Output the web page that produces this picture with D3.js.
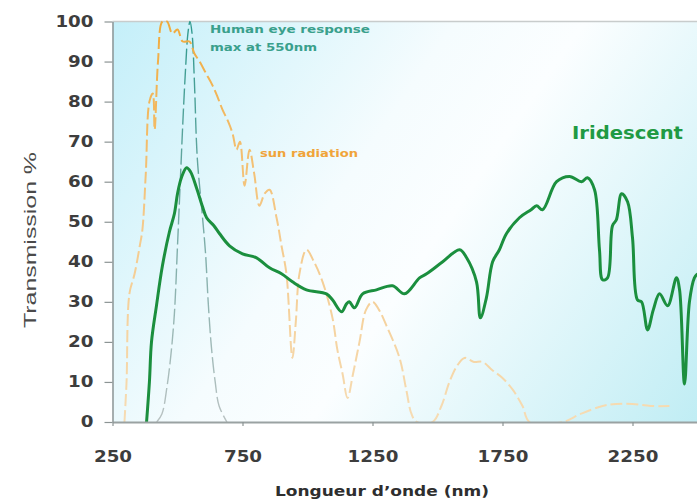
<!DOCTYPE html>
<html>
<head>
<meta charset="utf-8">
<script src="https://cdn.jsdelivr.net/npm/d3@7"></script>
<style>
  body { margin: 0; background: #fff; }
  svg { display: block; }
</style>
</head>
<body>
<div id="chart"></div>
<script>
// wavelength (nm) / transmission (%)
const iridescent = [
  [381, 0], [392, 10], [400, 20], [419, 29], [442, 39], [469, 47.5], [488, 52],
  [500, 57], [515, 61], [535, 63.5], [550, 62.5], [573, 58.5], [595, 54], [612, 51],
  [640, 49], [662, 47], [700, 44], [750, 42], [804, 41], [854, 38.5], [900, 37],
  [942, 35], [996, 33], [1073, 32], [1096, 30.5], [1131, 27.5], [1150, 29.5],
  [1161, 30], [1181, 28.5], [1212, 32], [1265, 33], [1327, 34], [1373, 32],
  [1431, 36], [1458, 37], [1520, 40], [1585, 43], [1612, 41], [1650, 35],
  [1665, 26], [1688, 31], [1712, 40], [1738, 43], [1765, 47], [1815, 51],
  [1860, 53], [1881, 54], [1904, 53], [1958, 60], [2008, 61.3], [2054, 60],
  [2077, 61], [2104, 58], [2123, 43], [2135, 35.5], [2154, 36], [2173, 49],
  [2188, 50.5], [2208, 57], [2231, 55], [2250, 46], [2269, 30.5], [2285, 30],
  [2308, 23], [2330, 28], [2354, 32], [2385, 29], [2419, 36], [2431, 33],
  [2450, 9.5], [2469, 30], [2488, 36], [2500, 37]
];

const sunRadiation = [
  [296, 0], [304, 10], [315, 32], [335, 37], [355, 44], [365, 48], [378, 62],
  [392, 80], [405, 82], [412, 73], [425, 90], [442, 100], [460, 100], [480, 97],
  [500, 98], [520, 95], [546, 95], [565, 92], [585, 90], [610, 87], [635, 84],
  [655, 81], [673, 78], [695, 75], [712, 72], [727, 68], [740, 70], [758, 59],
  [777, 68], [795, 62], [815, 54], [835, 57], [854, 58], [881, 51], [900, 44],
  [919, 37], [942, 16], [955, 25], [969, 37], [996, 43], [1025, 40], [1058, 35],
  [1096, 26], [1115, 18], [1135, 12], [1154, 6], [1175, 12], [1200, 20],
  [1225, 28], [1250, 30], [1275, 28], [1304, 24], [1354, 16], [1380, 8],
  [1400, 2], [1420, 0], [1481, 0], [1515, 4], [1546, 10], [1575, 14], [1604, 16],
  [1640, 15], [1673, 15], [1710, 13], [1750, 11], [1790, 8], [1827, 4],
  [1854, 0], [1981, 0], [2050, 2], [2135, 4], [2188, 4.5], [2250, 4.5],
  [2320, 4], [2392, 4]
];

const eyeResponse = [
  [420, 0], [440, 2], [460, 9], [475, 17], [488, 27], [500, 44], [510, 59],
  [520, 74], [530, 87], [540, 97], [548, 100], [556, 97], [565, 85], [576, 66],
  [595, 52], [608, 42], [618, 30], [630, 19], [645, 10], [660, 4], [690, 0]
];

const xTicks = [250, 750, 1250, 1750, 2250];
const yTicks = [0, 10, 20, 30, 40, 50, 60, 70, 80, 90, 100];

const width = 697, height = 502;
const plot = { left: 112.5, top: 21.5, right: 697.5, bottom: 422 };

const svg = d3.select("#chart").append("svg")
  .attr("width", width)
  .attr("height", height);

const xScale = d3.scaleLinear().domain([250, 2500]).range([plot.left, plot.right]);
const yScale = d3.scaleLinear().domain([0, 100]).range([plot.bottom, plot.top]);

const defs = svg.append("defs");

// pale cyan background, whitish through the middle
const bg = defs.append("linearGradient")
  .attr("id", "bg")
  .attr("gradientUnits", "userSpaceOnUse")
  .attr("x1", plot.left).attr("y1", plot.top)
  .attr("x2", plot.right).attr("y2", plot.bottom);
bg.append("stop").attr("offset", 0).attr("stop-color", "#c4eff9");
bg.append("stop").attr("offset", 0.4).attr("stop-color", "#f5fcfe");
bg.append("stop").attr("offset", 0.55).attr("stop-color", "#fbfeff");
bg.append("stop").attr("offset", 1).attr("stop-color", "#c0edf4");

const sunGrad = defs.append("linearGradient")
  .attr("id", "sunGrad")
  .attr("gradientUnits", "userSpaceOnUse")
  .attr("x1", 0).attr("y1", plot.top).attr("x2", 0).attr("y2", plot.bottom);
sunGrad.append("stop").attr("offset", 0).attr("stop-color", "#f0aa3c");
sunGrad.append("stop").attr("offset", 0.5).attr("stop-color", "#f4c98a");
sunGrad.append("stop").attr("offset", 1).attr("stop-color", "#f6dcb4");

const eyeGrad = defs.append("linearGradient")
  .attr("id", "eyeGrad")
  .attr("gradientUnits", "userSpaceOnUse")
  .attr("x1", 0).attr("y1", plot.top).attr("x2", 0).attr("y2", plot.bottom);
eyeGrad.append("stop").attr("offset", 0).attr("stop-color", "#2f9a8e");
eyeGrad.append("stop").attr("offset", 0.45).attr("stop-color", "#6fa8a2");
eyeGrad.append("stop").attr("offset", 1).attr("stop-color", "#b9c2c2");

defs.append("clipPath").attr("id", "clip")
  .append("rect")
  .attr("x", plot.left).attr("y", plot.top - 2)
  .attr("width", plot.right - plot.left).attr("height", plot.bottom - plot.top + 2);

svg.append("rect")
  .attr("x", plot.left).attr("y", plot.top)
  .attr("width", plot.right - plot.left)
  .attr("height", plot.bottom - plot.top)
  .attr("fill", "url(#bg)");

// top border
svg.append("line")
  .attr("x1", plot.left).attr("x2", plot.right)
  .attr("y1", plot.top).attr("y2", plot.top)
  .attr("stroke", "#c8cccc").attr("stroke-width", 1.5);

const line = d3.line()
  .x((d) => xScale(d[0]))
  .y((d) => yScale(d[1]))
  .curve(d3.curveCatmullRom.alpha(0.5));

const curves = svg.append("g").attr("clip-path", "url(#clip)");

curves.append("path")
  .attr("d", line(eyeResponse))
  .attr("fill", "none")
  .attr("stroke", "url(#eyeGrad)")
  .attr("stroke-width", 1.4)
  .attr("stroke-dasharray", "16,4");

curves.append("path")
  .attr("d", line(sunRadiation))
  .attr("fill", "none")
  .attr("stroke", "url(#sunGrad)")
  .attr("stroke-width", 2)
  .attr("stroke-dasharray", "12,4");

curves.append("path")
  .attr("d", line(iridescent))
  .attr("fill", "none")
  .attr("stroke", "#1b8f3e")
  .attr("stroke-width", 3)
  .attr("stroke-linejoin", "round");

// y-axis
const yAxis = svg.append("g")
  .attr("transform", `translate(${plot.left},0)`)
  .call(d3.axisLeft(yScale).tickValues(yTicks).tickSize(8).tickPadding(11).tickSizeOuter(0));
yAxis.select(".domain").attr("stroke", "#8c9494").attr("stroke-width", 1.5);
yAxis.selectAll(".tick line").attr("stroke", "#8c9494").attr("stroke-width", 1.2);
yAxis.selectAll(".tick text")
  .attr("font-family", "DejaVu Sans")
  .attr("font-weight", "bold")
  .attr("font-size", 15)
  .attr("fill", "#3d3d3d")
  .attr("textLength", (d) => String(d).length * 12.7)
  .attr("lengthAdjust", "spacingAndGlyphs");

// x-axis
const xAxis = svg.append("g")
  .attr("transform", `translate(0,${plot.bottom})`)
  .call(d3.axisBottom(xScale).tickValues(xTicks).tickFormat(d3.format("d"))
    .tickSize(4).tickSizeOuter(0));
xAxis.select(".domain").attr("stroke", "#9aa2a2").attr("stroke-width", 2);
xAxis.selectAll(".tick line").attr("stroke", "#8c9494").attr("stroke-width", 1.2);
xAxis.selectAll(".tick text")
  .attr("y", 40)
  .attr("dy", null)
  .attr("font-family", "DejaVu Sans")
  .attr("font-weight", "bold")
  .attr("font-size", 15)
  .attr("fill", "#3d3d3d")
  .attr("textLength", (d) => String(d).length * 12.7)
  .attr("lengthAdjust", "spacingAndGlyphs");

// axis titles
svg.append("text")
  .attr("transform", "translate(36,240) rotate(-90)")
  .attr("text-anchor", "middle")
  .attr("font-family", "Liberation Sans")
  .attr("font-size", 17)
  .attr("fill", "#4a4a4a")
  .attr("textLength", 176)
  .attr("lengthAdjust", "spacingAndGlyphs")
  .text("Transmission %");

svg.append("text")
  .attr("x", 382).attr("y", 496)
  .attr("text-anchor", "middle")
  .attr("font-family", "DejaVu Sans")
  .attr("font-weight", "bold")
  .attr("font-size", 14)
  .attr("fill", "#2e2e2e")
  .attr("textLength", 214)
  .attr("lengthAdjust", "spacingAndGlyphs")
  .text("Longueur d’onde (nm)");

// annotations
svg.append("text")
  .attr("x", 210).attr("y", 33)
  .attr("font-family", "DejaVu Sans").attr("font-weight", "bold")
  .attr("font-size", 10.5).attr("fill", "#3aa08c")
  .attr("textLength", 160).attr("lengthAdjust", "spacingAndGlyphs")
  .text("Human eye response");

svg.append("text")
  .attr("x", 210).attr("y", 51)
  .attr("font-family", "DejaVu Sans").attr("font-weight", "bold")
  .attr("font-size", 10.5).attr("fill", "#3aa08c")
  .attr("textLength", 107).attr("lengthAdjust", "spacingAndGlyphs")
  .text("max at 550nm");

svg.append("text")
  .attr("x", 260).attr("y", 157)
  .attr("font-family", "DejaVu Sans").attr("font-weight", "bold")
  .attr("font-size", 10.5).attr("fill", "#f0a43a")
  .attr("textLength", 98).attr("lengthAdjust", "spacingAndGlyphs")
  .text("sun radiation");

svg.append("text")
  .attr("x", 572).attr("y", 139)
  .attr("font-family", "DejaVu Sans").attr("font-weight", "bold")
  .attr("font-size", 18).attr("fill", "#1f9a44")
  .attr("textLength", 111).attr("lengthAdjust", "spacingAndGlyphs")
  .text("Iridescent");
</script>
</body>
</html>
